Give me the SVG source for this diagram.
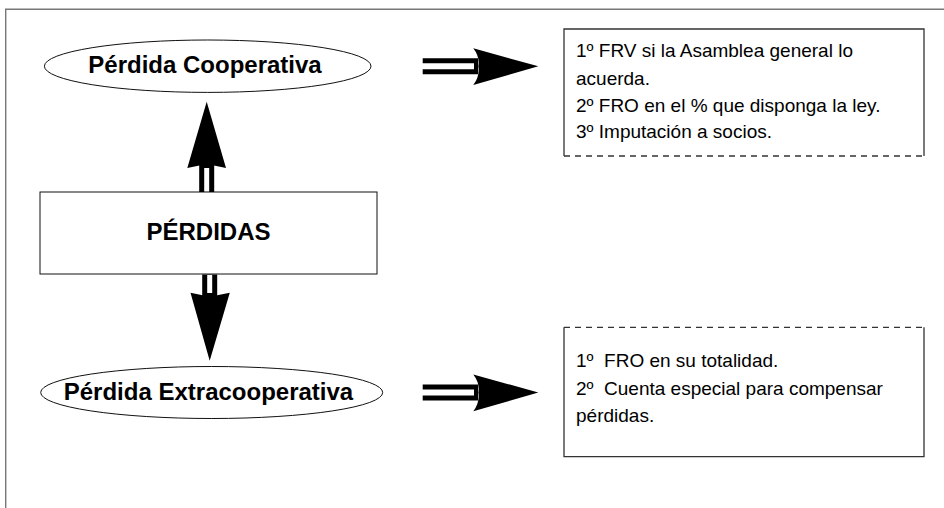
<svg xmlns="http://www.w3.org/2000/svg" width="944" height="508" viewBox="0 0 944 508">
<style>
.frame{fill:none;stroke:#777;stroke-width:1.4}
.node{fill:#fff;stroke:#111;stroke-width:1}
.box{fill:#fff;stroke:none}
.edge{fill:none;stroke:#333;stroke-width:1.3}
.dash{fill:none;stroke:#333;stroke-width:1.3;stroke-dasharray:6 5}
.bold{font-family:"Liberation Sans",Arial,Helvetica,sans-serif;font-weight:bold;font-size:24px;fill:#000;text-anchor:middle}
.body{font-family:"Liberation Sans",Arial,Helvetica,sans-serif;font-size:19px;fill:#000}
.shaft{stroke:#000;fill:none}
.gap{stroke:#fff;fill:none}
.head{fill:#000;stroke:none}
</style>
<rect width="944" height="508" fill="#fff"/>
<path class="frame" d="M5.7 508 V9.3 H944"/>

<g id="perdida-cooperativa">
<ellipse class="node" cx="207.7" cy="66.2" rx="163.3" ry="26.2"/>
<text class="bold" x="205" y="73">Pérdida Cooperativa</text>
</g>

<g id="perdidas">
<rect class="node" x="40" y="192" width="337" height="82"/>
<text class="bold" x="208.5" y="240">PÉRDIDAS</text>
</g>

<g id="perdida-extracooperativa">
<ellipse class="node" cx="211.7" cy="392.5" rx="171" ry="26"/>
<text class="bold" x="208.5" y="400">Pérdida Extracooperativa</text>
</g>

<g id="destino-cooperativa">
<rect class="box" x="564" y="29" width="360" height="127"/>
<path class="edge" d="M564 156 V29 H924 V156"/>
<path class="dash" d="M564 156 H924"/>
<text class="body" x="576" y="57">1º FRV si la Asamblea general lo</text>
<text class="body" x="576" y="85">acuerda.</text>
<text class="body" x="576" y="111.5">2º FRO en el % que disponga la ley.</text>
<text class="body" x="576" y="138">3º Imputación a socios.</text>
</g>

<g id="destino-extracooperativa">
<rect class="box" x="564" y="327.3" width="360" height="129.4"/>
<path class="edge" d="M564 327.3 V456.7 H924 V327.3"/>
<path class="dash" d="M564 327.3 H924"/>
<text class="body" x="576" y="367" xml:space="preserve">1º  FRO en su totalidad.</text>
<text class="body" x="576" y="394.5" xml:space="preserve">2º  Cuenta especial para compensar</text>
<text class="body" x="576" y="421.5">pérdidas.</text>
</g>

<g id="connectors">
<!-- up arrow to Pérdida Cooperativa -->
<g id="arrow-up">
<path class="shaft" stroke-width="15" d="M206.7 192 V164"/>
<path class="gap" stroke-width="5" d="M206.7 191.5 V168"/>
<polygon class="head" points="206.7,101.7 226,168 206.7,164 187.3,168"/>
</g>
<!-- down arrow to Pérdida Extracooperativa -->
<g id="arrow-down">
<path class="shaft" stroke-width="15" d="M209.7 274.5 V297"/>
<path class="gap" stroke-width="5" d="M209.7 275 V293"/>
<polygon class="head" points="209.7,360.7 229.8,292.7 209.7,296.7 190.5,292.7"/>
</g>
<!-- right arrow top -->
<g id="arrow-right-top">
<path class="shaft" stroke-width="16" d="M422.7 66.3 H478"/>
<path class="gap" stroke-width="6" d="M422 66.3 H474"/>
<path class="head" d="M538.3 66.3 L473.3 48.3 Q480 57 478.3 66.3 Q480 76 473.3 85 Z"/>
</g>
<!-- right arrow bottom -->
<g id="arrow-right-bottom">
<path class="shaft" stroke-width="16" d="M422.7 392.5 H478"/>
<path class="gap" stroke-width="6" d="M422 392.5 H474"/>
<path class="head" d="M538.3 392.5 L473.3 374.5 Q480 383.2 478.3 392.5 Q480 402.2 473.3 411.2 Z"/>
</g>
</g>
</svg>
